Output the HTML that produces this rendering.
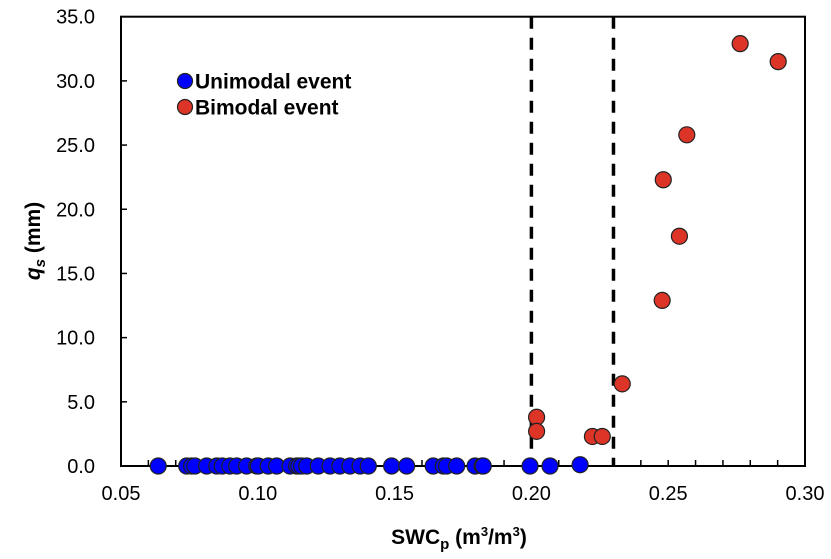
<!DOCTYPE html>
<html><head><meta charset="utf-8"><style>
body{margin:0;background:#fff;}
svg{display:block;font-family:"Liberation Sans",Arial,sans-serif;}
</style></head><body>
<svg id="chart" width="831" height="559" viewBox="0 0 831 559">
<g id="grid"></g>
<g id="marks"></g>
<g>
  <circle cx="185" cy="81" r="7.5" fill="#0000ff" stroke="#222" stroke-width="1.2"/>
  <text x="195" y="88.5" font-size="21" font-weight="bold" fill="#000">Unimodal event</text>
  <circle cx="185" cy="107" r="7.5" fill="#dd3428" stroke="#222" stroke-width="1.2"/>
  <text x="195" y="114.5" font-size="21" font-weight="bold" fill="#000">Bimodal event</text>
</g>
<text x="459" y="544" text-anchor="middle" font-size="21" font-weight="bold">SWC<tspan font-size="15" dy="5">p</tspan><tspan dy="-5"> (m</tspan><tspan font-size="13" dy="-8">3</tspan><tspan dy="8">/m</tspan><tspan font-size="13" dy="-8">3</tspan><tspan dy="8">)</tspan></text>
<text transform="translate(40,241) rotate(-90)" text-anchor="middle" font-size="21" font-weight="bold"><tspan font-style="italic">q</tspan><tspan font-style="italic" font-size="15" dy="5">s</tspan><tspan dy="-5"> (mm)</tspan></text>
</svg>
<script>
const xTicks=[0.05,0.10,0.15,0.20,0.25,0.30];
const xTickLabels=["0.05","0.10","0.15","0.20","0.25","0.30"];
const yTicks=[0,5,10,15,20,25,30,35];
const yTickLabels=["0.0","5.0","10.0","15.0","20.0","25.0","30.0","35.0"];
const thresholds=[0.20,0.23];
const uniX=[0.0636,0.0740,0.0758,0.0770,0.0813,0.0850,0.0870,0.0898,0.0923,0.0959,0.0996,0.1002,0.1038,0.1069,0.1118,0.1142,0.1150,0.1160,0.1179,0.1221,0.1264,0.1300,0.1337,0.1374,0.1404,0.1489,0.1544,0.1641,0.1678,0.1690,0.1727,0.1794,0.1820,0.1824,0.1995,0.2068,0.2178];
const uniY=[0,0,0,0,0,0,0,0,0,0,0,0,0,0,0,0,0,0,0,0,0,0,0,0,0,0,0,0,0,0,0,0,0,0,0,0,0.1];
const biX=[0.2763,0.2902,0.2568,0.2482,0.2541,0.2478,0.2332,0.2019,0.2019,0.2223,0.2259];
const biY=[32.9,31.5,25.8,22.3,17.9,12.9,6.4,3.8,2.7,2.3,2.3];

const L=121,R=805,T=16.7,B=466;
const xS=v=>L+(v-0.05)/(0.30-0.05)*(R-L);
const yS=v=>B-(v/35)*(B-T);
const NS="http://www.w3.org/2000/svg";
function mk(tag,attrs,parent){const e=document.createElementNS(NS,tag);for(const k in attrs)e.setAttribute(k,attrs[k]);parent.appendChild(e);return e;}
const g=document.getElementById('grid'),m=document.getElementById('marks');
let fr=mk('rect',{x:L,y:T,width:R-L,height:B-T,fill:'none',stroke:'#000','stroke-width':2},g);


for(let i=0;i<=25;i++){const v=0.05+i*0.01;const x=xS(v);
 let t=mk('line',{x1:x,x2:x,y1:B,y2:B-6,stroke:'#000','stroke-width':1.5},g);
 
 }
xTicks.forEach((v,i)=>{let t=mk('text',{x:xS(v),y:B+34,'text-anchor':'middle','font-size':20,fill:'#000'},g);t.textContent=xTickLabels[i];
 
 });
yTicks.forEach((v,i)=>{const y=yS(v);
 let l=mk('line',{x1:L,x2:L+6,y1:y,y2:y,stroke:'#000','stroke-width':1.5},g);
 
 
 let t=mk('text',{x:95,y:y+7,'text-anchor':'end','font-size':20,fill:'#000'},g);t.textContent=yTickLabels[i];
 
 });
thresholds.forEach(v=>{let l=mk('line',{x1:xS(v),x2:xS(v),y1:T,y2:B,stroke:'#000','stroke-width':3.5,'stroke-dasharray':'12,9'},g);
 
 });
uniX.forEach((v,i)=>{let c=mk('circle',{cx:xS(v),cy:yS(uniY[i]),r:8,fill:'#0000ff',stroke:'#222','stroke-width':1.2},m);
 
 });
biX.forEach((v,i)=>{let c=mk('circle',{cx:xS(v),cy:yS(biY[i]),r:8,fill:'#dd3428',stroke:'#222','stroke-width':1.2},m);
 
 });
</script>
</body></html>
